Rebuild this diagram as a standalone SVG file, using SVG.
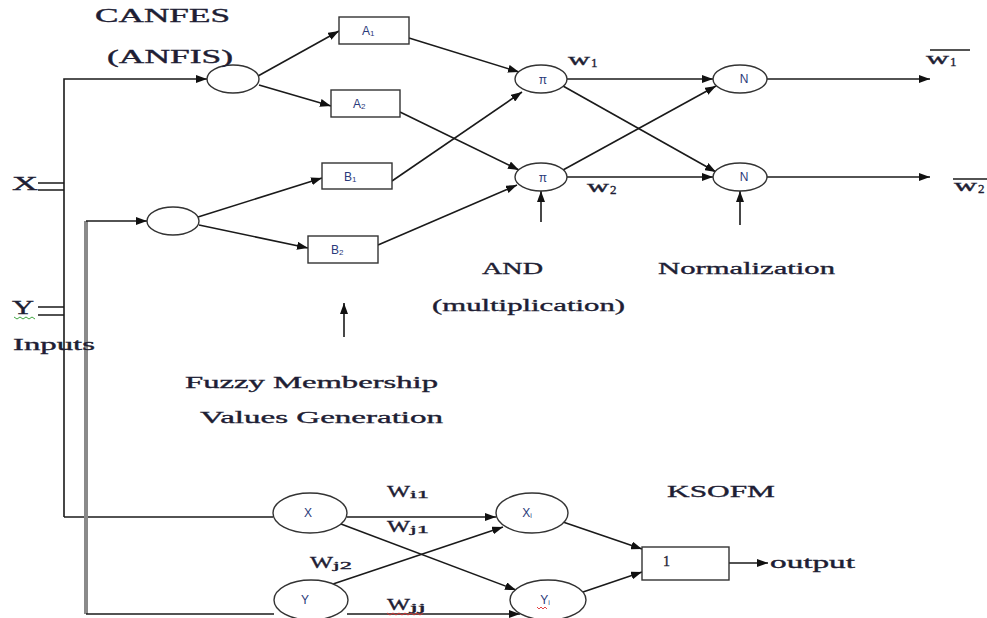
<svg xmlns="http://www.w3.org/2000/svg" width="987" height="618" viewBox="0 0 987 618">
  <defs>
    <marker id="ah" markerWidth="11" markerHeight="8" refX="11" refY="4" orient="auto" markerUnits="userSpaceOnUse">
      <path d="M0,0 L11,4 L0,8 z" fill="#111"/>
    </marker>
    <style>
      .ln{stroke:#1a1a1a;stroke-width:1.6;fill:none}
      .ar{stroke:#1a1a1a;stroke-width:1.6;fill:none;marker-end:url(#ah)}
      .nd{fill:#fff;stroke:#333;stroke-width:1.4}
      .t{font-family:"Liberation Serif","Times New Roman",serif;fill:#1e1e34;stroke:#1e1e34;stroke-width:0.35}
      .big{font-size:18px}
      .lbl{font-size:12px;font-family:"Liberation Sans",Arial,sans-serif;fill:#2a3a7a}
      .sq{fill:none;stroke-width:0.9}
    </style>
  </defs>
  <rect width="987" height="618" fill="#fff"/>

  <!-- connectors -->
  <g id="connectors">
    <!-- input bus lines -->
    <path class="ar" d="M64,517 V79 H207"/>
    <path class="ln" d="M64,517 H273"/>
    <path d="M86,614 V221" stroke="#8a8a8a" stroke-width="4" fill="none"/>
    <path class="ar" d="M86,221 H147"/>
    <path class="ln" d="M86,614 H274"/>
    <path class="ln" d="M38,183 H64 M38,190 H64 M38,307 H64 M38,315 H64"/>
    <!-- membership layer -->
    <path class="ar" d="M258,76 L339,31"/>
    <path class="ar" d="M259,85 L331,106"/>
    <path class="ar" d="M198,217 L322,178"/>
    <path class="ar" d="M199,225 L308,248"/>
    <!-- rule layer -->
    <path class="ar" d="M409,38 L519,72"/>
    <path class="ar" d="M400,112 L519,170"/>
    <path class="ar" d="M392,181 L522,92"/>
    <path class="ar" d="M378,245 L517,185"/>
    <!-- normalization layer -->
    <path class="ar" d="M567,79 H713"/>
    <path class="ar" d="M563,86 L716,172"/>
    <path class="ar" d="M563,170 L716,86"/>
    <path class="ar" d="M567,177 H713"/>
    <path class="ar" d="M767,79 H930"/>
    <path class="ar" d="M767,177 H930"/>
    <!-- annotation pointers -->
    <path class="ar" d="M541,222 V191"/>
    <path class="ar" d="M740,225 V191"/>
    <path class="ar" d="M344,337 V303"/>
    <!-- KSOFM -->
    <path class="ar" d="M347,517 H496"/>
    <path class="ar" d="M341,524 L516,590"/>
    <path class="ar" d="M333,584 L503,527"/>
    <path class="ar" d="M347,614 H520"/>
    <path class="ar" d="M563,522 L642,549"/>
    <path class="ar" d="M583,592 L642,572"/>
    <path class="ar" d="M729,563 H768"/>
  </g>

  <!-- ANFIS nodes -->
  <g id="mfX"><ellipse class="nd" cx="233" cy="79" rx="26" ry="14"/></g>
  <g id="mfY"><ellipse class="nd" cx="173" cy="221" rx="26" ry="14"/></g>
  <g id="A1"><rect class="nd" x="339" y="17" width="70" height="27"/>
    <text class="lbl" x="362" y="35">A<tspan font-size="8" dy="1">1</tspan></text></g>
  <g id="A2"><rect class="nd" x="331" y="90" width="69" height="27"/>
    <text class="lbl" x="353" y="108">A<tspan font-size="8" dy="1">2</tspan></text></g>
  <g id="B1"><rect class="nd" x="322" y="163" width="70" height="26"/>
    <text class="lbl" x="344" y="181">B<tspan font-size="8" dy="1">1</tspan></text></g>
  <g id="B2"><rect class="nd" x="308" y="236" width="70" height="27"/>
    <text class="lbl" x="331" y="254">B<tspan font-size="8" dy="1">2</tspan></text></g>
  <g id="P1"><ellipse class="nd" cx="541" cy="79" rx="26" ry="14"/>
    <text class="lbl" x="543" y="84" text-anchor="middle" font-size="14" fill="#7a5a20">π</text></g>
  <g id="P2"><ellipse class="nd" cx="541" cy="177" rx="26" ry="14"/>
    <text class="lbl" x="543" y="182" text-anchor="middle" font-size="14" fill="#7a5a20">π</text></g>
  <g id="N1"><ellipse class="nd" cx="740" cy="79" rx="27" ry="14"/>
    <text class="lbl" x="744" y="83" text-anchor="middle" font-size="10">N</text></g>
  <g id="N2"><ellipse class="nd" cx="740" cy="177" rx="27" ry="14"/>
    <text class="lbl" x="744" y="181" text-anchor="middle" font-size="10">N</text></g>

  <!-- KSOFM nodes -->
  <g id="KX"><ellipse class="nd" cx="310" cy="513" rx="37" ry="20"/>
    <text class="lbl" x="308" y="517" text-anchor="middle" font-size="11">X</text></g>
  <g id="KXi"><ellipse class="nd" cx="532" cy="513" rx="36" ry="20"/>
    <text class="lbl" x="527" y="517" text-anchor="middle" font-size="11">X<tspan font-size="7" dy="1">i</tspan></text></g>
  <g id="KY"><ellipse class="nd" cx="311" cy="600" rx="37" ry="20"/>
    <text class="lbl" x="305" y="604" text-anchor="middle" font-size="11">Y</text></g>
  <g id="KYi"><ellipse class="nd" cx="548" cy="600" rx="38" ry="20"/>
    <text class="lbl" x="545" y="604" text-anchor="middle" font-size="11">Y<tspan font-size="7" dy="1">i</tspan></text>
    <path class="sq" stroke="#e03030" d="M537,607 l2,2 l2,-2 l2,2 l2,-2 l2,2"/></g>
  <g id="out"><rect class="nd" x="642" y="547" width="87" height="33"/>
    <text class="t" x="663" y="566" font-size="14">1</text></g>

  <!-- labels -->
  <g id="labels">
    <text class="t big" x="95" y="22" textLength="135" lengthAdjust="spacingAndGlyphs">CANFES</text>
    <text class="t big" x="107" y="63" textLength="126" lengthAdjust="spacingAndGlyphs">(ANFIS)</text>
    <text class="t big" x="12" y="190" textLength="26" lengthAdjust="spacingAndGlyphs">X</text>
    <text class="t big" x="12" y="314" textLength="22" lengthAdjust="spacingAndGlyphs">Y</text>
    <path class="sq" stroke="#2a9a2a" d="M14,317 l3,2 l3,-2 l3,2 l3,-2 l3,2 l3,-2 l3,2"/>
    <text class="t" x="13" y="350" font-size="17" textLength="82" lengthAdjust="spacingAndGlyphs">Inputs</text>
    <text class="t" x="185" y="388" font-size="17" textLength="253" lengthAdjust="spacingAndGlyphs">Fuzzy Membership</text>
    <text class="t" x="200" y="423" font-size="17" textLength="243" lengthAdjust="spacingAndGlyphs">Values Generation</text>
    <text class="t" x="482" y="274" font-size="17" textLength="61" lengthAdjust="spacingAndGlyphs">AND</text>
    <text class="t" x="432" y="311" font-size="17" textLength="193" lengthAdjust="spacingAndGlyphs">(multiplication)</text>
    <text class="t" x="658" y="274" font-size="17" textLength="177" lengthAdjust="spacingAndGlyphs">Normalization</text>
    <text class="t" x="667" y="497" font-size="17" textLength="108" lengthAdjust="spacingAndGlyphs">KSOFM</text>
    <text class="t" x="770" y="568" font-size="17" textLength="85" lengthAdjust="spacingAndGlyphs">output</text>

    <!-- firing strengths -->
    <text class="t" x="568" y="65" font-size="17" textLength="22" lengthAdjust="spacingAndGlyphs">w</text>
    <text class="t" x="591" y="67" font-size="13">1</text>
    <text class="t" x="587" y="192" font-size="17" textLength="22" lengthAdjust="spacingAndGlyphs">w</text>
    <text class="t" x="610" y="194" font-size="13">2</text>
    <!-- normalized strengths -->
    <text class="t" x="926" y="64" font-size="17" textLength="23" lengthAdjust="spacingAndGlyphs">w</text>
    <text class="t" x="950" y="66" font-size="13">1</text>
    <path class="ln" d="M930,50 H970"/>
    <text class="t" x="954" y="191" font-size="17" textLength="23" lengthAdjust="spacingAndGlyphs">w</text>
    <text class="t" x="978" y="193" font-size="13">2</text>
    <path class="ln" d="M953,179 H990"/>

    <!-- KSOFM weights -->
    <text class="t" x="387" y="497" font-size="17" textLength="23" lengthAdjust="spacingAndGlyphs">W</text>
    <text class="t" x="410" y="498" font-size="11" textLength="19" lengthAdjust="spacingAndGlyphs">i1</text>
    <text class="t" x="387" y="532" font-size="17" textLength="23" lengthAdjust="spacingAndGlyphs">W</text>
    <text class="t" x="410" y="533" font-size="11" textLength="19" lengthAdjust="spacingAndGlyphs">j1</text>
    <text class="t" x="310" y="568" font-size="17" textLength="23" lengthAdjust="spacingAndGlyphs">W</text>
    <text class="t" x="333" y="569" font-size="11" textLength="19" lengthAdjust="spacingAndGlyphs">j2</text>
    <text class="t" x="387" y="610" font-size="17" textLength="23" lengthAdjust="spacingAndGlyphs">W</text>
    <text class="t" x="410" y="611" font-size="11" textLength="16" lengthAdjust="spacingAndGlyphs">jj</text>
    <path class="sq" stroke="#e03030" d="M387,613 l3,2 l3,-2 l3,2 l3,-2 l3,2 l3,-2 l3,2 l3,-2 l3,2 l3,-2 l3,2 l3,-2"/>
  </g>
</svg>
